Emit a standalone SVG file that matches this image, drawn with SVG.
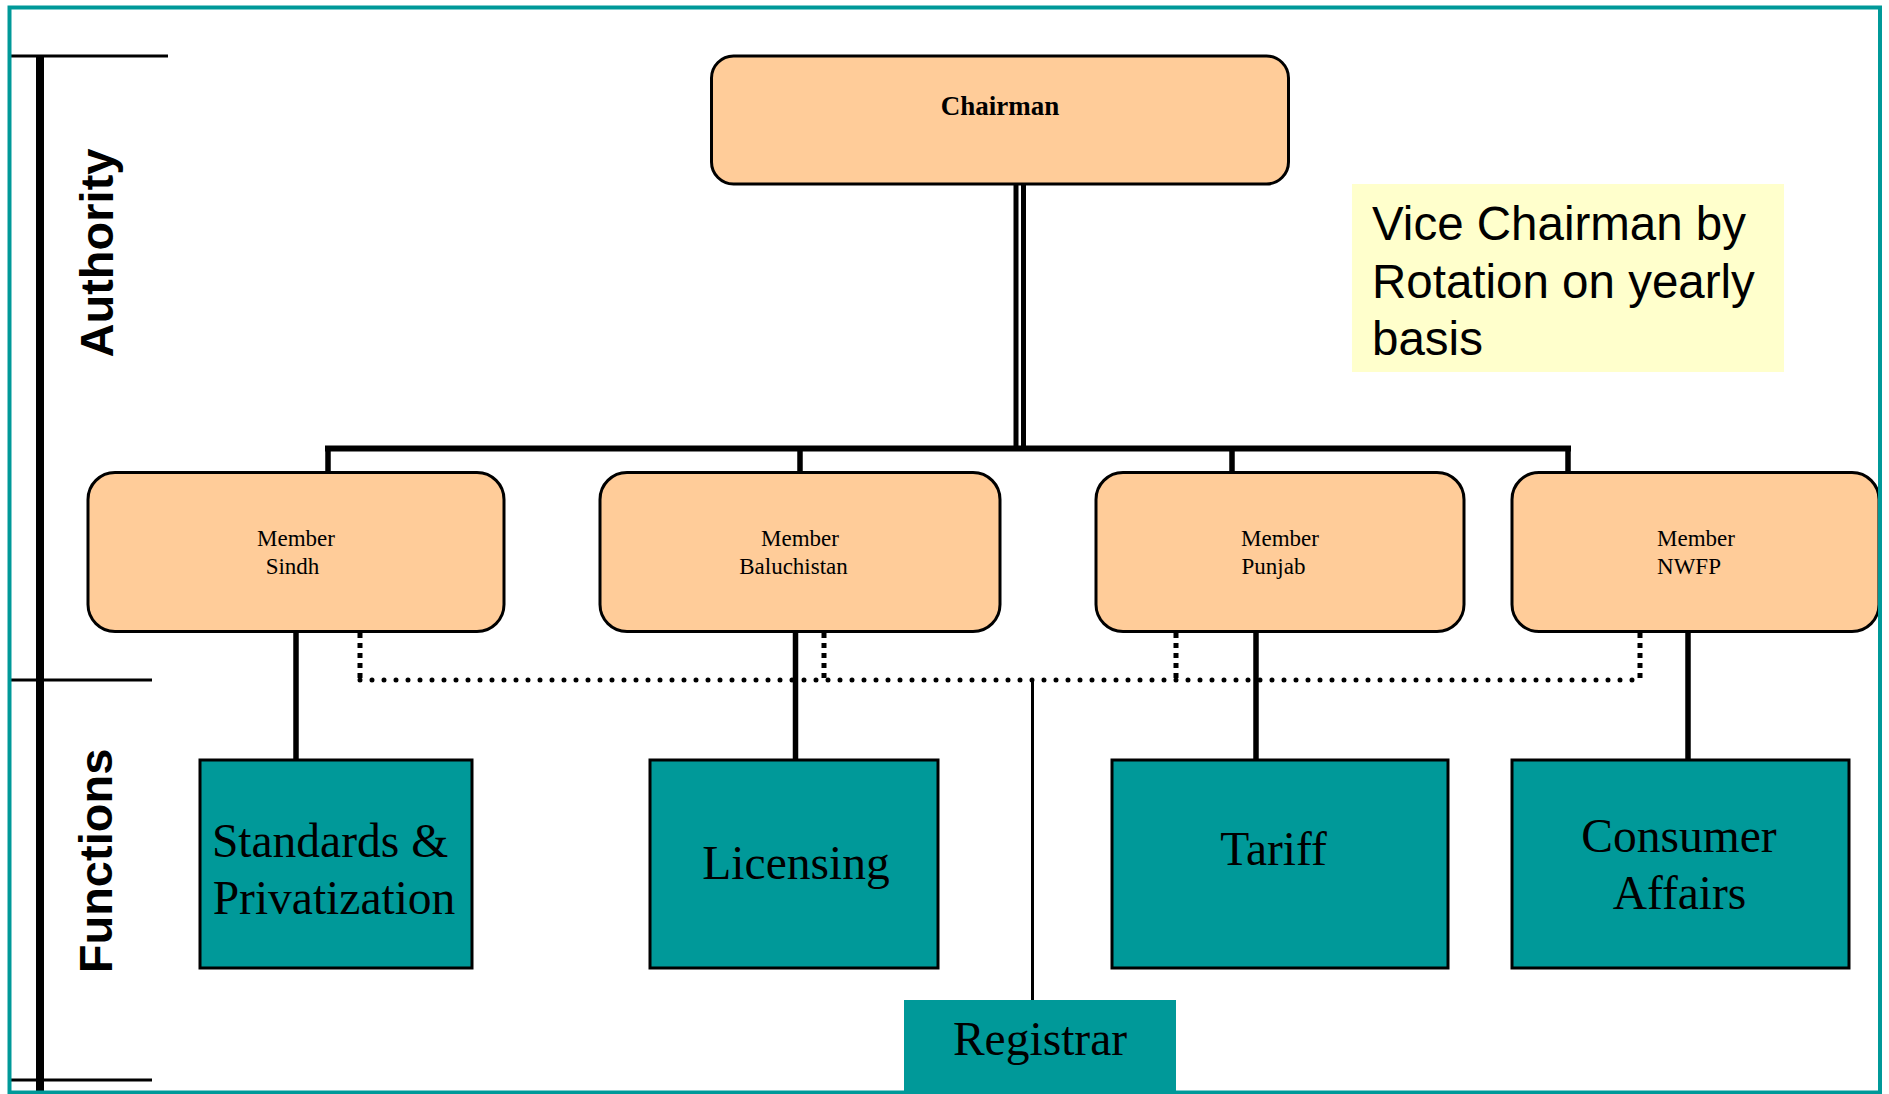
<svg xmlns="http://www.w3.org/2000/svg" width="1889" height="1094" viewBox="0 0 1889 1094">
<style>
.member{fill:#FFCC99;stroke:#000;stroke-width:3}
.func{fill:#009999;stroke:#000;stroke-width:3}
.mtxt{font-family:"Liberation Serif","Times New Roman",serif;font-size:23px;fill:#000;text-anchor:middle}
.ftxt{font-family:"Liberation Serif","Times New Roman",serif;font-size:47.5px;fill:#000;text-anchor:middle}
.side{font-family:"Liberation Sans",Arial,sans-serif;font-size:47px;font-weight:bold;fill:#000;text-anchor:middle}
.solid{stroke:#000;stroke-width:5.5;fill:none}
.dotv{stroke:#000;stroke-width:5;stroke-dasharray:5 5;fill:none}
.doth{stroke:#000;stroke-width:5;stroke-linecap:round;stroke-dasharray:0 12;fill:none}
</style>
<rect x="0" y="0" width="1889" height="1094" fill="#fff"/>
<g id="sidebar">
<line x1="8" y1="56" x2="168" y2="56" stroke="#000" stroke-width="3"/>
<line x1="8" y1="680" x2="152" y2="680" stroke="#000" stroke-width="3"/>
<line x1="8" y1="1080" x2="152" y2="1080" stroke="#000" stroke-width="3"/>
<line x1="40" y1="55" x2="40" y2="1094" stroke="#000" stroke-width="8"/>
<text class="side" transform="translate(113,253) rotate(-90)">Authority</text>
<text class="side" transform="translate(112,861) rotate(-90)">Functions</text>
</g>
<g id="connectors">
<line x1="1016" y1="184" x2="1016" y2="451" stroke="#000" stroke-width="5"/>
<line x1="1023.5" y1="184" x2="1023.5" y2="451" stroke="#000" stroke-width="5"/>
<line x1="325" y1="448.5" x2="1571" y2="448.5" stroke="#000" stroke-width="6"/>
<line class="solid" x1="328" y1="448" x2="328" y2="472"/>
<line class="solid" x1="800" y1="448" x2="800" y2="472"/>
<line class="solid" x1="1232" y1="448" x2="1232" y2="472"/>
<line class="solid" x1="1568" y1="448" x2="1568" y2="472"/>
<line class="dotv" x1="360" y1="633" x2="360" y2="678"/>
<line class="dotv" x1="824" y1="633" x2="824" y2="678"/>
<line class="dotv" x1="1176" y1="633" x2="1176" y2="678"/>
<line class="dotv" x1="1640" y1="633" x2="1640" y2="678"/>
<line class="doth" x1="360" y1="680" x2="1640" y2="680"/>
<line class="solid" x1="296" y1="632" x2="296" y2="760"/>
<line class="solid" x1="795.5" y1="632" x2="795.5" y2="760"/>
<line class="solid" x1="1256" y1="632" x2="1256" y2="760"/>
<line class="solid" x1="1688" y1="632" x2="1688" y2="760"/>
<line x1="1032.5" y1="680" x2="1032.5" y2="1000" stroke="#000" stroke-width="3"/>
</g>
<g id="chairman">
<rect class="member" x="711.5" y="56" width="577" height="128" rx="22"/>
<text x="1000" y="115" font-family="Liberation Serif,Times New Roman,serif" font-size="27" font-weight="bold" text-anchor="middle">Chairman</text>
</g>
<g id="note">
<rect x="1352" y="184" width="432" height="188" fill="#FFFFCC"/>
<text font-family="Liberation Sans,Arial,sans-serif" font-size="47.5" fill="#000">
<tspan x="1372" y="240">Vice Chairman by</tspan>
<tspan x="1372" y="298">Rotation on yearly</tspan>
<tspan x="1372" y="355">basis</tspan>
</text>
</g>
<g id="member-sindh">
<rect class="member" x="88" y="472.5" width="416" height="159" rx="27"/>
<text class="mtxt" x="296" y="546">Member</text>
<text class="mtxt" x="292.5" y="574">Sindh</text>
</g>
<g id="member-baluchistan">
<rect class="member" x="600" y="472.5" width="400" height="159" rx="27"/>
<text class="mtxt" x="800" y="546">Member</text>
<text class="mtxt" x="793.5" y="574">Baluchistan</text>
</g>
<g id="member-punjab">
<rect class="member" x="1096" y="472.5" width="368" height="159" rx="27"/>
<text class="mtxt" x="1280" y="546">Member</text>
<text class="mtxt" x="1273.5" y="574">Punjab</text>
</g>
<g id="member-nwfp">
<rect class="member" x="1512" y="472.5" width="367" height="159" rx="27"/>
<text class="mtxt" x="1696" y="546">Member</text>
<text class="mtxt" x="1689" y="574">NWFP</text>
</g>
<g id="func-standards">
<rect class="func" x="200" y="760" width="272" height="208"/>
<text class="ftxt" x="330" y="857">Standards &amp;</text>
<text class="ftxt" x="334" y="914">Privatization</text>
</g>
<g id="func-licensing">
<rect class="func" x="650" y="760" width="288" height="208"/>
<text class="ftxt" x="796" y="879">Licensing</text>
</g>
<g id="func-tariff">
<rect class="func" x="1112" y="760" width="336" height="208"/>
<text class="ftxt" x="1273.5" y="865">Tariff</text>
</g>
<g id="func-consumer">
<rect class="func" x="1512" y="760" width="337" height="208"/>
<text class="ftxt" x="1679" y="852">Consumer</text>
<text class="ftxt" x="1679.5" y="909">Affairs</text>
</g>
<g id="registrar">
<rect x="904" y="1000" width="272" height="94" fill="#009999"/>
<text class="ftxt" x="1040" y="1055">Registrar</text>
</g>
<rect id="frame" x="9.5" y="7.5" width="1870.5" height="1085" fill="none" stroke="#009999" stroke-width="4"/>
</svg>
